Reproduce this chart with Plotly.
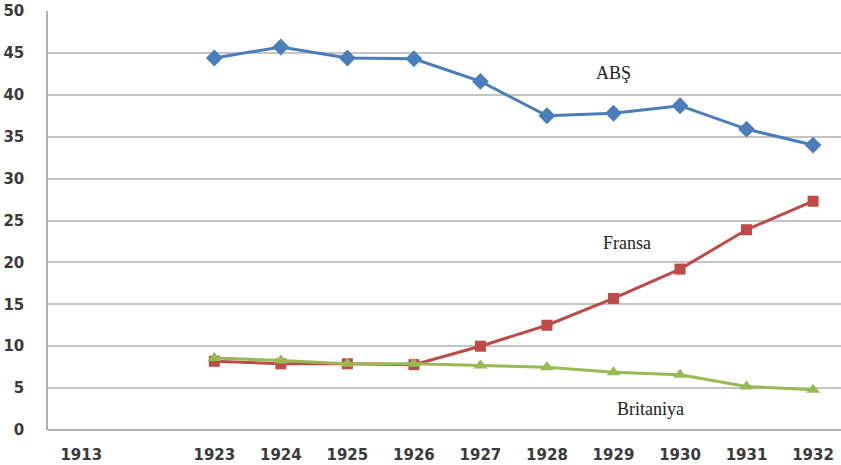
import plotly.graph_objects as go

years = ["1913", "", "1923", "1924", "1925", "1926", "1927", "1928", "1929", "1930", "1931", "1932"]
positions = list(range(len(years)))
abs_vals = [None, None, 44.4, 45.7, 44.4, 44.3, 41.6, 37.5, 37.8, 38.7, 35.9, 34.0]
fransa_vals = [None, None, 8.2, 7.9, 7.9, 7.8, 10.0, 12.5, 15.7, 19.2, 23.9, 27.3]
britaniya_vals = [None, None, 8.6, 8.3, 7.9, 7.9, 7.7, 7.5, 6.9, 6.6, 5.2, 4.8]
y_ticks = [0, 5, 10, 15, 20, 25, 30, 35, 40, 45, 50]

labels = [("ABŞ", 8.0, 42.6), ("Fransa", 8.2, 22.3), ("Britaniya", 8.55, 2.5)]

fig = go.Figure()
fig.add_trace(go.Scatter(x=positions, y=abs_vals, mode="lines+markers",
                         line=dict(color="#4a7ebb", width=3),
                         marker=dict(symbol="diamond", size=13, color="#4a7ebb")))
fig.add_trace(go.Scatter(x=positions, y=fransa_vals, mode="lines+markers",
                         line=dict(color="#be4b48", width=3),
                         marker=dict(symbol="square", size=11, color="#be4b48")))
fig.add_trace(go.Scatter(x=positions, y=britaniya_vals, mode="lines+markers",
                         line=dict(color="#98b954", width=3),
                         marker=dict(symbol="triangle-up", size=12, color="#98b954")))

for text, x, y in labels:
    fig.add_annotation(x=x, y=y, text=text, showarrow=False,
                       font=dict(family="Liberation Serif", size=18, color="#222222"))

fig.update_layout(
    width=841, height=465,
    margin=dict(l=48, r=0, t=11, b=35, autoexpand=False),
    paper_bgcolor="white", plot_bgcolor="white",
    showlegend=False,
    font=dict(family="DejaVu Sans", size=15, color="#3a3a3a"),
)
fig.update_xaxes(
    range=[-0.5, 11.42], tickmode="array", tickvals=positions, ticktext=years,
    showgrid=False, zeroline=False, showline=False, automargin=False,
    ticks="", ticklabelstandoff=14, ticklabeloverflow="allow",
    tickfont=dict(family="DejaVu Sans", size=15, color="#3a3a3a", weight="bold"),
)
fig.update_yaxes(
    range=[0, 50], tickmode="array", tickvals=y_ticks, automargin=False,
    showgrid=True, gridcolor="#c4c4c4", gridwidth=1.5,
    zeroline=True, zerolinecolor="#b0b0b0", zerolinewidth=1.5,
    showline=True, linecolor="#b0b0b0", linewidth=1.5,
    ticks="", ticklabelstandoff=19, ticklabeloverflow="allow",
    tickfont=dict(family="DejaVu Sans", size=15, color="#3a3a3a", weight="bold"),
)

fig.write_html("out.html", config={"displayModeBar": False},
               post_script="document.body.style.margin='0';document.body.style.overflow='hidden';")
